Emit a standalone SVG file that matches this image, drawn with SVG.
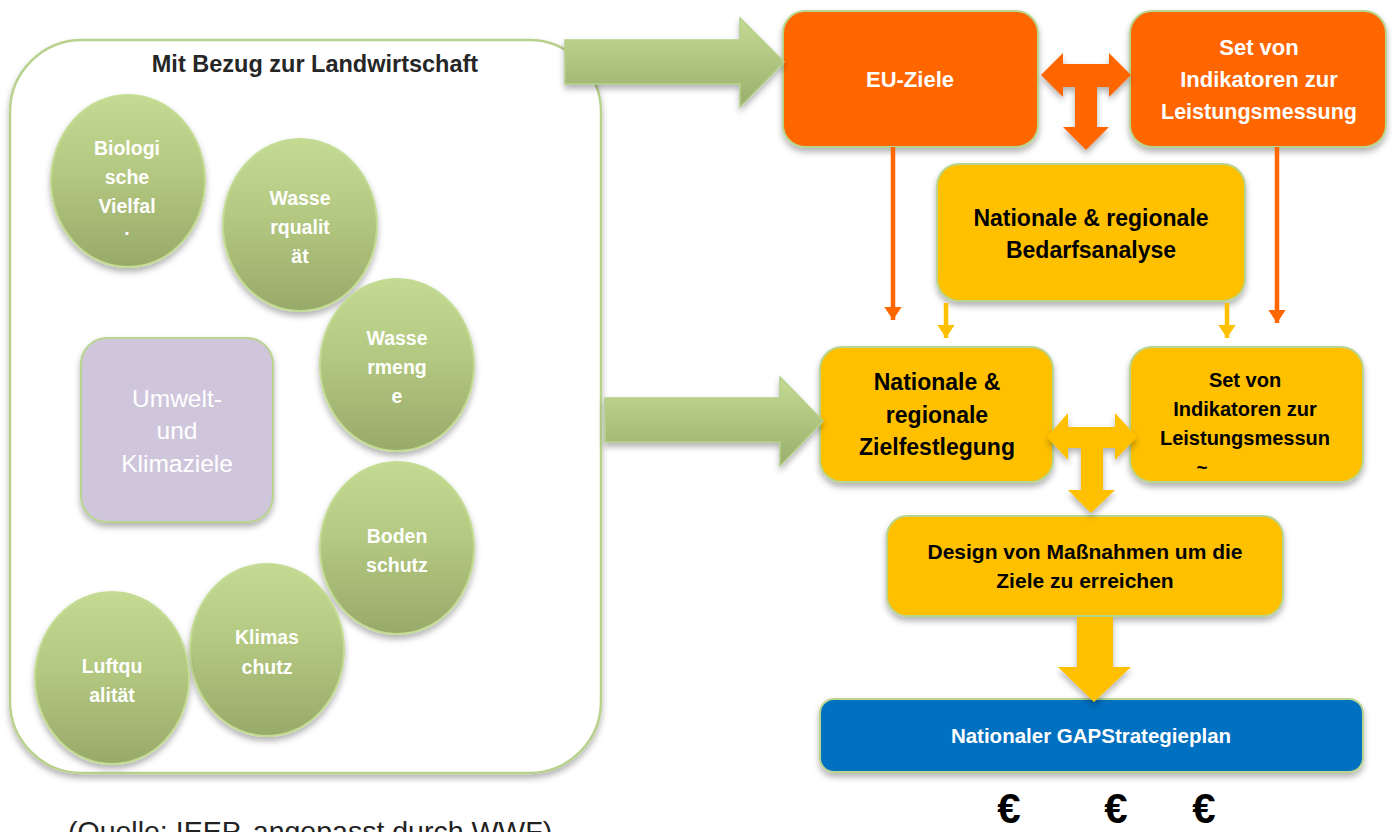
<svg xmlns="http://www.w3.org/2000/svg" width="1392" height="832" viewBox="0 0 1392 832">
<defs>
  <linearGradient id="gEll" x1="0" y1="0" x2="0" y2="1">
    <stop offset="0" stop-color="#c4da92"/>
    <stop offset="0.45" stop-color="#b3c880"/>
    <stop offset="1" stop-color="#98aa6a"/>
  </linearGradient>
  <linearGradient id="gArr" x1="0" y1="0" x2="0" y2="1">
    <stop offset="0" stop-color="#c5db93"/>
    <stop offset="1" stop-color="#9aae6c"/>
  </linearGradient>
  <filter id="sh" x="-10%" y="-10%" width="120%" height="130%">
    <feDropShadow dx="0" dy="4" stdDeviation="3" flood-color="#000" flood-opacity="0.3"/>
  </filter>
  <marker id="mO" markerWidth="4" markerHeight="4" refX="3" refY="2" orient="auto" markerUnits="strokeWidth">
    <path d="M0,0 L3,2 L0,4 Z" fill="#ff6600"/>
  </marker>
  <marker id="mY" markerWidth="4" markerHeight="4" refX="3" refY="2" orient="auto" markerUnits="strokeWidth">
    <path d="M0,0 L3,2 L0,4 Z" fill="#ffc000"/>
  </marker>
  <style>
    .ell{fill:url(#gEll);stroke:#c3dc93;stroke-width:2;filter:url(#sh)}
    .et{font-family:"Liberation Sans",Arial,sans-serif;font-weight:bold;font-size:19.5px;fill:#fff;text-anchor:middle}
    .box{stroke:#b9d48f;stroke-width:2;filter:url(#sh)}
    .or{fill:#ff6600}
    .ye{fill:#ffc000}
    .bl{fill:#0070c0}
    .wt{font-family:"Liberation Sans",Arial,sans-serif;font-weight:bold;fill:#fff;text-anchor:middle}
    .bt{font-family:"Liberation Sans",Arial,sans-serif;font-weight:bold;fill:#000;text-anchor:middle}
    .garr{fill:url(#gArr);stroke:#b3cf88;stroke-width:1.5;filter:url(#sh)}
    .thinO{stroke:#ff6600;stroke-width:4.5;fill:none;marker-end:url(#mO)}
    .thinY{stroke:#ffc000;stroke-width:4.5;fill:none;marker-end:url(#mY)}
  </style>
</defs>
<rect width="1392" height="832" fill="#fff"/>

<g id="container">
  <rect x="10" y="40" width="591" height="733" rx="72" fill="#fff" stroke="#b8d28e" stroke-width="2.5" filter="url(#sh)"/>
  <text x="315" y="72" font-family="Liberation Sans,Arial,sans-serif" font-weight="bold" font-size="23.5" fill="#262626" text-anchor="middle">Mit Bezug zur Landwirtschaft</text>
</g>

<g id="n-biologische-vielfalt">
  <ellipse class="ell" cx="128" cy="181" rx="77" ry="86"/>
  <text class="et" x="127" y="155">Biologi</text>
  <text class="et" x="127" y="184">sche</text>
  <text class="et" x="127" y="213">Vielfal</text>
  <text class="et" x="127" y="235" font-size="15">.</text>
</g>
<g id="n-wasserqualitaet">
  <ellipse class="ell" cx="300" cy="225" rx="77" ry="86"/>
  <text class="et" x="300" y="205">Wasse</text>
  <text class="et" x="300" y="234">rqualit</text>
  <text class="et" x="300" y="263">ät</text>
</g>
<g id="n-wassermenge">
  <ellipse class="ell" cx="397" cy="365" rx="77" ry="86"/>
  <text class="et" x="397" y="345">Wasse</text>
  <text class="et" x="397" y="374">rmeng</text>
  <text class="et" x="397" y="403">e</text>
</g>
<g id="n-umwelt-klimaziele">
  <rect x="81" y="338" width="192" height="184" rx="26" fill="#cfc6dc" stroke="#b9d48f" stroke-width="2" filter="url(#sh)"/>
  <text x="177" y="407" font-family="Liberation Sans,Arial,sans-serif" font-size="24.5" fill="#fff" text-anchor="middle">Umwelt-</text>
  <text x="177" y="439" font-family="Liberation Sans,Arial,sans-serif" font-size="24.5" fill="#fff" text-anchor="middle">und</text>
  <text x="177" y="472" font-family="Liberation Sans,Arial,sans-serif" font-size="24.5" fill="#fff" text-anchor="middle">Klimaziele</text>
</g>
<g id="n-bodenschutz">
  <ellipse class="ell" cx="397" cy="548" rx="77" ry="86"/>
  <text class="et" x="397" y="543">Boden</text>
  <text class="et" x="397" y="572">schutz</text>
</g>
<g id="n-klimaschutz">
  <ellipse class="ell" cx="267" cy="650" rx="77" ry="86"/>
  <text class="et" x="267" y="644">Klimas</text>
  <text class="et" x="267" y="674">chutz</text>
</g>
<g id="n-luftqualitaet">
  <ellipse class="ell" cx="112" cy="678" rx="77" ry="86"/>
  <text class="et" x="112" y="673">Luftqu</text>
  <text class="et" x="112" y="702">alität</text>
</g>

<g id="n-eu-ziele">
  <rect class="box or" x="783" y="11" width="255" height="136" rx="22"/>
  <text class="wt" x="910" y="87" font-size="22">EU-Ziele</text>
</g>
<g id="n-set-eu">
  <rect class="box or" x="1130" y="11" width="256" height="136" rx="22"/>
  <text class="wt" x="1259" y="55" font-size="22">Set von</text>
  <text class="wt" x="1259" y="87" font-size="22">Indikatoren zur</text>
  <text class="wt" x="1259" y="119" font-size="21.5">Leistungsmessung</text>
</g>
<g id="n-bedarfsanalyse">
  <rect class="box ye" x="937" y="164" width="308" height="137" rx="22"/>
  <text class="bt" x="1091" y="226" font-size="23">Nationale &amp; regionale</text>
  <text class="bt" x="1091" y="258" font-size="23">Bedarfsanalyse</text>
</g>
<g id="n-zielfestlegung">
  <rect class="box ye" x="820" y="347" width="233" height="135" rx="22"/>
  <text class="bt" x="937" y="390" font-size="23">Nationale &amp;</text>
  <text class="bt" x="937" y="423" font-size="23">regionale</text>
  <text class="bt" x="937" y="455" font-size="23">Zielfestlegung</text>
</g>
<g id="n-set-national">
  <rect class="box ye" x="1130" y="347" width="233" height="135" rx="22"/>
  <text class="bt" x="1245" y="387" font-size="20">Set von</text>
  <text class="bt" x="1245" y="416" font-size="20">Indikatoren zur</text>
  <text class="bt" x="1245" y="445" font-size="20">Leistungsmessun</text>
  <text class="bt" x="1202" y="474" font-size="19">~</text>
</g>
<g id="n-design">
  <rect class="box ye" x="887" y="516" width="396" height="100" rx="20"/>
  <text class="bt" x="1085" y="559" font-size="21">Design von Maßnahmen um die</text>
  <text class="bt" x="1085" y="588" font-size="21">Ziele zu erreichen</text>
</g>
<g id="n-strategieplan">
  <rect class="box bl" x="820" y="699" width="543" height="73" rx="14"/>
  <text class="wt" x="1091" y="743" font-size="20.5">Nationaler GAPStrategieplan</text>
</g>

<g id="connectors">
  <polygon class="garr" points="565,40 740,40 740,18 784,62 740,107 740,84 565,84"/>
  <polygon class="garr" points="605,398 780,398 780,377 823,421 780,466 780,442 605,442"/>
  <polygon fill="#ff6600" filter="url(#sh)" points="1041,75 1063,53 1063,64 1109,64 1109,53 1131,75 1109,97 1109,87 1097,87 1097,127 1109,127 1086,150 1063,127 1075,127 1075,87 1063,87 1063,97"/>
  <line class="thinO" x1="893" y1="147" x2="893" y2="320"/>
  <line class="thinO" x1="1277" y1="147" x2="1277" y2="323"/>
  <line class="thinY" x1="946" y1="303" x2="946" y2="338"/>
  <line class="thinY" x1="1227" y1="303" x2="1227" y2="338"/>
  <polygon fill="#ffc000" filter="url(#sh)" points="1047,437 1068,413 1068,427 1115,427 1115,413 1137,437 1115,460 1115,448 1103,448 1103,490 1115,490 1091,513 1068,490 1081,490 1081,448 1068,448 1068,460"/>
  <polygon fill="#ffc000" filter="url(#sh)" points="1077,617 1113,617 1113,667 1131,667 1094,702 1058,667 1077,667"/>
</g>

<g id="euros" font-family="Liberation Sans,Arial,sans-serif" font-weight="bold" font-size="42" fill="#000" text-anchor="middle">
  <text x="1009" y="823">€</text>
  <text x="1116" y="823">€</text>
  <text x="1204" y="823">€</text>
</g>

<text x="68" y="841" font-family="Liberation Sans,Arial,sans-serif" font-size="28.5" fill="#222">(Quelle: IEEP, angepasst durch WWF)</text>
</svg>
